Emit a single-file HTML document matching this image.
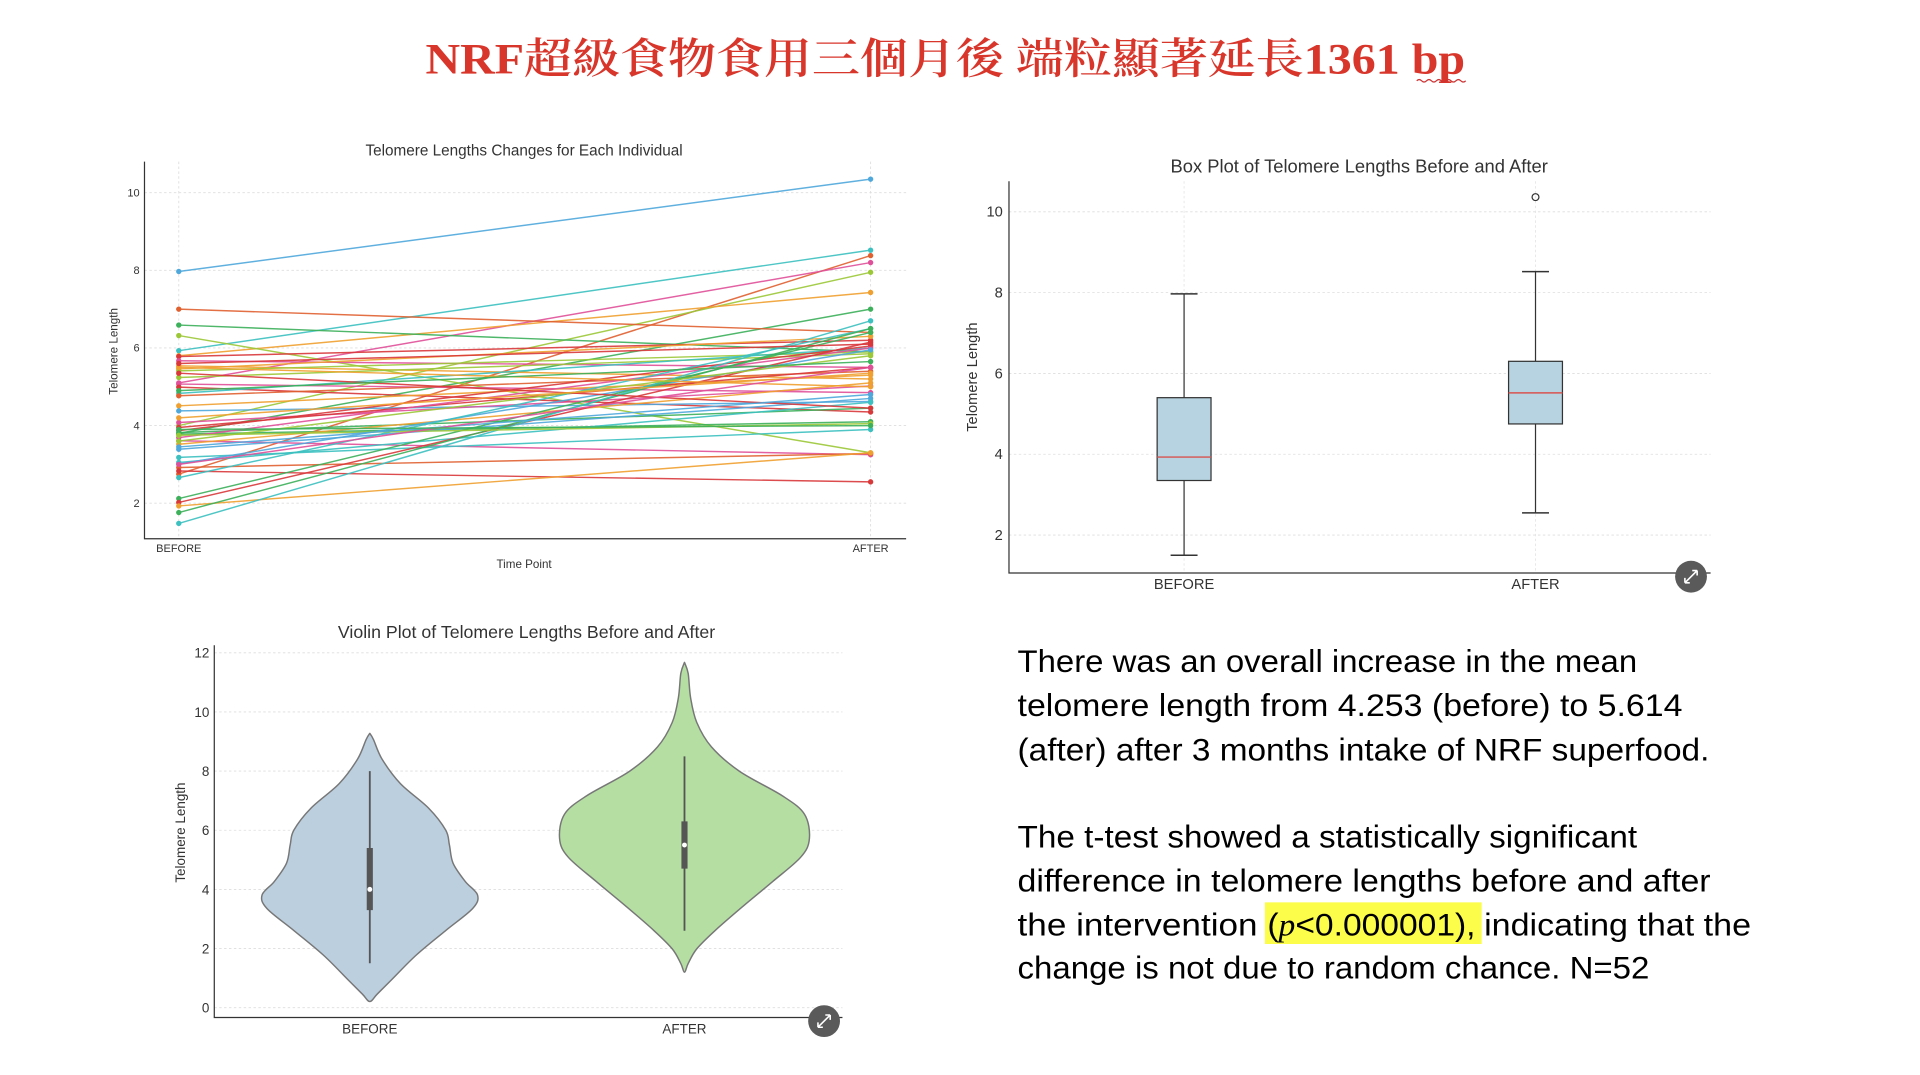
<!DOCTYPE html>
<html><head><meta charset="utf-8"><style>
html,body{margin:0;padding:0;background:#fff;width:1920px;height:1075px;overflow:hidden}
svg{display:block}
text{font-family:"Liberation Sans",sans-serif}
</style></head><body>
<svg id="s" width="1920" height="1075" viewBox="0 0 1568 878" preserveAspectRatio="none" xmlns="http://www.w3.org/2000/svg">
<text x="772" y="60" text-anchor="middle" style="font-family:'Liberation Serif','Noto Serif CJK SC',serif" font-weight="600" font-size="35" fill="#d8352b" textLength="849" lengthAdjust="spacingAndGlyphs">NRF超級食物食用三個月後 端粒顯著延長1361 bp</text>
<path d="M1157 66 q2 -2 4 0 t4 0 t4 0 t4 0 t4 0 t4 0 t4 0 t4 0 t4 0 t4 0" fill="none" stroke="#c33" stroke-width="1"/>

<g id="p1" font-size="9" fill="#333">
<text x="428" y="127" text-anchor="middle" font-size="12.5" fill="#333">Telomere Lengths Changes for Each Individual</text>
<text x="428" y="464" text-anchor="middle" font-size="9.5">Time Point</text>
<text transform="translate(96,287) rotate(-90)" text-anchor="middle" font-size="9.5">Telomere Length</text>
<text x="146" y="451" text-anchor="middle" font-size="9">BEFORE</text>
<text x="711" y="451" text-anchor="middle" font-size="9">AFTER</text>
</g>

<g font-size="13" fill="#333">
<text x="1110" y="141" text-anchor="middle" font-size="15">Box Plot of Telomere Lengths Before and After</text>
<text transform="translate(798,308) rotate(-90)" text-anchor="middle" font-size="12">Telomere Length</text>
<text x="967" y="481" text-anchor="middle" font-size="12">BEFORE</text>
<text x="1254" y="481" text-anchor="middle" font-size="12">AFTER</text>
</g>

<g font-size="12" fill="#333">
<text x="430" y="521" text-anchor="middle" font-size="14.5">Violin Plot of Telomere Lengths Before and After</text>
<text transform="translate(151,680) rotate(-90)" text-anchor="middle" font-size="11">Telomere Length</text>
<text x="302" y="844" text-anchor="middle" font-size="11">BEFORE</text>
<text x="559" y="844" text-anchor="middle" font-size="11">AFTER</text>
</g>

<g font-size="26" fill="#000">
<rect x="1033" y="737" width="177" height="34" fill="#fcfc4a"/>
<text x="831" y="549" textLength="506" lengthAdjust="spacingAndGlyphs">There was an overall increase in the mean</text>
<text x="831" y="585" textLength="543" lengthAdjust="spacingAndGlyphs">telomere length from 4.253 (before) to 5.614</text>
<text x="831" y="621" textLength="565" lengthAdjust="spacingAndGlyphs">(after) after 3 months intake of NRF superfood.</text>
<text x="831" y="692" textLength="506" lengthAdjust="spacingAndGlyphs">The t-test showed a statistically significant</text>
<text x="831" y="728" textLength="566" lengthAdjust="spacingAndGlyphs">difference in telomere lengths before and after</text>
<text x="831" y="764" textLength="196" lengthAdjust="spacingAndGlyphs">the intervention</text>
<text x="1035" y="764" textLength="170" lengthAdjust="spacingAndGlyphs">(<tspan font-style="italic" style="font-family:'Liberation Serif',serif">p</tspan>&lt;0.000001),</text>
<text x="1212" y="764" textLength="218" lengthAdjust="spacingAndGlyphs">indicating that the</text>
<text x="831" y="799" textLength="516" lengthAdjust="spacingAndGlyphs">change is not due to random chance. N=52</text>
</g>
</svg>
<script>
var S=document.getElementById('s'),NS='http://www.w3.org/2000/svg';
function el(t,a,txt){var e=document.createElementNS(NS,t);for(var k in a)e.setAttribute(k,a[k]);if(txt!==undefined)e.textContent=txt;S.appendChild(e);return e;}
var y1=function(v){return 411-(v-2)*31.7;};
[10,8,6,4,2].forEach(function(v){el('line',{x1:118,x2:740,y1:y1(v),y2:y1(v),stroke:'#ddd','stroke-width':0.7,'stroke-dasharray':'2,2'});el('text',{x:114,y:y1(v)+3,'text-anchor':'end','font-size':9,fill:'#333'},v);});
[146,711].forEach(function(x){el('line',{x1:x,x2:x,y1:132,y2:440,stroke:'#ddd','stroke-width':0.7,'stroke-dasharray':'2,2'});});
var C={blue:'#4fa8dc',orange:'#f0a030',green:'#3cb05a',red:'#d9383a',pink:'#e0509a',teal:'#3cc0c0',lime:'#9cc838',orred:'#e06030'};
var D=[[7.97,10.35,'blue'],[5.93,8.52,'teal'],[2.75,8.38,'orred'],[5.1,8.2,'pink'],[4.0,7.95,'lime'],[5.8,7.43,'orange'],[3.8,7.0,'green'],[7.0,6.4,'orred'],[6.59,5.9,'green'],[6.32,3.3,'lime'],[5.78,6.2,'red'],[5.67,5.5,'pink'],[5.54,5.2,'orange'],[5.46,6.3,'orange'],[5.41,5.9,'lime'],[5.24,5.85,'lime'],[5.07,4.85,'pink'],[4.99,4.35,'red'],[4.83,6.0,'teal'],[4.77,5.4,'orred'],[4.51,5.3,'orange'],[4.38,4.62,'blue'],[4.08,5.02,'pink'],[3.95,5.5,'red'],[3.87,6.05,'red'],[3.82,4.45,'green'],[3.78,4.1,'green'],[3.69,6.0,'pink'],[3.61,3.25,'pink'],[3.52,5.1,'orange'],[3.39,4.7,'blue'],[3.18,3.9,'teal'],[3.05,4.6,'teal'],[3.01,5.95,'blue'],[2.92,3.28,'orred'],[2.83,2.55,'red'],[2.66,6.5,'teal'],[2.12,6.4,'green'],[2.02,6.15,'red'],[1.93,3.3,'orange'],[1.76,6.5,'green'],[1.48,6.7,'teal'],[5.5,5.0,'orange'],[5.35,4.45,'red'],[3.6,5.8,'lime'],[3.75,4.05,'lime'],[4.9,5.65,'green'],[3.45,4.8,'blue'],[4.2,5.35,'orange'],[5.6,6.1,'red'],[3.0,5.5,'pink'],[3.9,4.0,'green']];
D.forEach(function(d){var c=C[d[2]];el('line',{x1:146,y1:y1(d[0]),x2:711,y2:y1(d[1]),stroke:c,'stroke-width':1.2,opacity:0.9});el('circle',{cx:146,cy:y1(d[0]),r:2.2,fill:c});el('circle',{cx:711,cy:y1(d[1]),r:2.2,fill:c});});
el('path',{d:'M118 132 V440 H740',fill:'none',stroke:'#333','stroke-width':1});
var y2=function(v){return 437-(v-2)*33;};
[10,8,6,4,2].forEach(function(v){el('line',{x1:824,x2:1397,y1:y2(v),y2:y2(v),stroke:'#ddd','stroke-width':0.7,'stroke-dasharray':'2,2'});el('text',{x:819,y:y2(v)+4,'text-anchor':'end','font-size':12,fill:'#333'},v);});
[967,1254].forEach(function(x){el('line',{x1:x,x2:x,y1:148,y2:468,stroke:'#e4e4e4','stroke-width':0.7,'stroke-dasharray':'2,2'});});
function box(cx,lo,q1,med,q3,hi){el('line',{x1:cx,x2:cx,y1:y2(hi),y2:y2(q3),stroke:'#333','stroke-width':1});el('line',{x1:cx,x2:cx,y1:y2(q1),y2:y2(lo),stroke:'#333','stroke-width':1});el('line',{x1:cx-11,x2:cx+11,y1:y2(hi),y2:y2(hi),stroke:'#333','stroke-width':1.2});el('line',{x1:cx-11,x2:cx+11,y1:y2(lo),y2:y2(lo),stroke:'#333','stroke-width':1.2});el('rect',{x:cx-22,y:y2(q3),width:44,height:y2(q1)-y2(q3),fill:'#b7d3e1',stroke:'#333','stroke-width':1});el('line',{x1:cx-22,x2:cx+22,y1:y2(med),y2:y2(med),stroke:'#d9534f','stroke-width':1.2});}
box(967,1.5,3.35,3.93,5.4,7.97);box(1254,2.55,4.75,5.52,6.3,8.52);
el('circle',{cx:1254,cy:161,r:2.8,fill:'none',stroke:'#333','stroke-width':1});
el('path',{d:'M824 148 V468 H1397',fill:'none',stroke:'#333','stroke-width':1});
el('circle',{cx:1381,cy:471,r:13,fill:'#5a5a5a'});el('path',{d:'M1376 476 L1386 466 M1376 476 v-4 M1376 476 h4 M1386 466 v4 M1386 466 h-4',stroke:'#fff','stroke-width':1.3,fill:'none'});
var y3=function(v){return 823-v*24.15;};
[12,10,8,6,4,2,0].forEach(function(v){el('line',{x1:175,x2:688,y1:y3(v),y2:y3(v),stroke:'#ddd','stroke-width':0.7,'stroke-dasharray':'2,2'});el('text',{x:171,y:y3(v)+4,'text-anchor':'end','font-size':11,fill:'#333'},v);});
function smooth(pts){var d='M'+pts[0][0]+' '+pts[0][1];for(var i=0;i<pts.length-1;i++){var p0=pts[Math.max(i-1,0)],p1=pts[i],p2=pts[i+1],p3=pts[Math.min(i+2,pts.length-1)];d+=' C'+(p1[0]+(p2[0]-p0[0])/6)+' '+(p1[1]+(p2[1]-p0[1])/6)+' '+(p2[0]-(p3[0]-p1[0])/6)+' '+(p2[1]-(p3[1]-p1[1])/6)+' '+p2[0]+' '+p2[1];}return d;}
function vio(cx,prof,fill){var pts=[];prof.forEach(function(p){pts.push([cx+p[1],p[0]]);});for(var i=prof.length-2;i>=0;i--)pts.push([cx-prof[i][1],prof[i][0]]);el('path',{d:smooth(pts)+'Z',fill:fill,stroke:'#777','stroke-width':1.2,'stroke-linejoin':'round'});}
vio(302,[[599,0],[604,3],[620,10],[640,25],[660,48],[678,62],[690,65],[705,68],[720,78],[731,88],[742,84],[760,62],[780,38],[800,18],[812,6],[818,0]],'#bccfdf');
vio(559,[[541,0],[550,3],[570,5],[590,10],[610,22],[630,45],[650,80],[665,98],[685,102],[700,95],[720,72],[740,48],[760,25],[775,10],[787,3],[794,0]],'#b5dea2');
function inner(cx,lo,q1,med,q3,hi){el('line',{x1:cx,x2:cx,y1:y3(hi),y2:y3(lo),stroke:'#555','stroke-width':1.5});el('line',{x1:cx,x2:cx,y1:y3(q3),y2:y3(q1),stroke:'#555','stroke-width':5});el('circle',{cx:cx,cy:y3(med),r:2,fill:'#fff'});}
inner(302,1.5,3.3,4.0,5.4,8.0);inner(559,2.6,4.7,5.5,6.3,8.5);
el('path',{d:'M175 527 V831 H688',fill:'none',stroke:'#333','stroke-width':1});
el('circle',{cx:673,cy:834,r:13,fill:'#5a5a5a'});el('path',{d:'M668 839 L678 829 M668 839 v-4 M668 839 h4 M678 829 v4 M678 829 h-4',stroke:'#fff','stroke-width':1.3,fill:'none'});
</script>
</body></html>
